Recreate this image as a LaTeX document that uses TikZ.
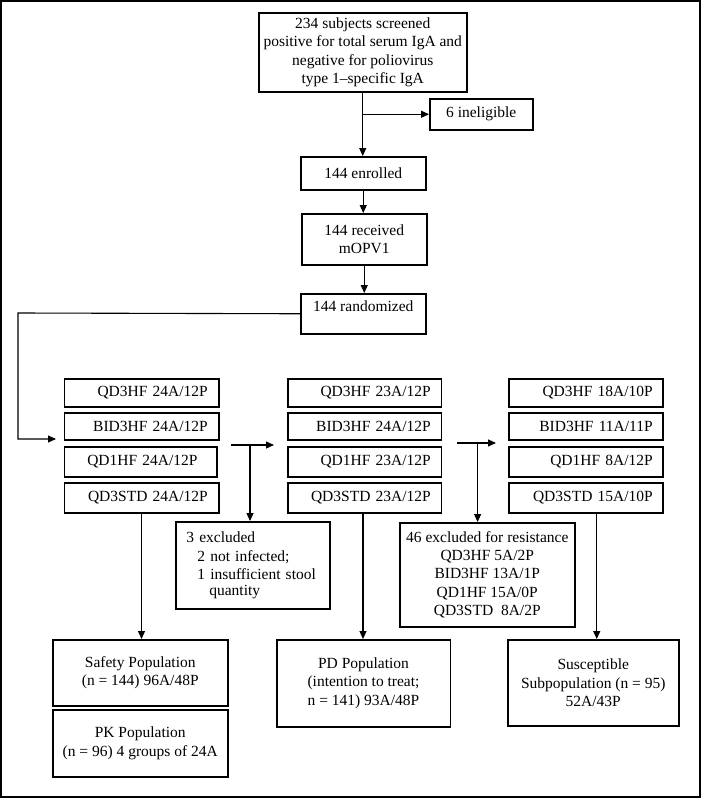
\documentclass[tikz,border=0pt]{standalone}
\usepackage{fontspec}
\setmainfont{Liberation Serif}
\usetikzlibrary{arrows.meta,calc}
\begin{document}
\begin{tikzpicture}[x=1pt,y=-1pt,
  box/.style={draw, line width=1.5pt, inner sep=0pt, anchor=north west,
    font=\fontsize{15.5}{18.4}\selectfont, align=center},
  colbox/.style={box, align=right},
  arr/.style={line width=1.1pt, -{Triangle[length=8pt,width=7pt]}}]
\useasboundingbox (0,0) rectangle (701,798);
\draw[line width=1.5pt] (1,1) rectangle (700,797);
% top chain
\node[box, minimum width=208pt, minimum height=79pt] (top) at (258,12)
  {234 subjects screened\\positive for total serum IgA and\\negative for poliovirus\\type 1–specific IgA};
\node[box, minimum width=103pt, minimum height=31pt] (inel) at (429,98) {6 ineligible};
\node[box, minimum width=125pt, minimum height=33pt] (enr) at (300,156) {144 enrolled};
\node[box, minimum width=125pt, minimum height=51pt] (rec) at (301,213) {144 received\\mOPV1};
\node[box, minimum width=125pt, minimum height=40pt] (rand) at (300,293) {144 randomized\\[-4pt]};
% column 1
\node[colbox, text width=132.5pt, inner xsep=11pt, minimum width=154.5pt, minimum height=28pt] (c1a) at (63.5,378) {QD3HF 24A/12P};
\node[colbox, text width=132.5pt, inner xsep=11pt, minimum width=154.5pt, minimum height=27pt] (c1b) at (63.5,412) {BID3HF 24A/12P};
\node[colbox, text width=114pt, inner xsep=19.25pt, minimum width=152.5pt, minimum height=30pt] (c1c) at (63.5,446) {QD1HF 24A/12P};
\node[colbox, text width=132.5pt, inner xsep=11pt, minimum width=154.5pt, minimum height=30pt] (c1d) at (63.5,482) {QD3STD 24A/12P};
% column 2
\node[colbox, text width=132.5pt, inner xsep=10.5pt, minimum width=153.5pt, minimum height=28pt] (c2a) at (287,378) {QD3HF 23A/12P};
\node[colbox, text width=132.5pt, inner xsep=10.5pt, minimum width=153.5pt, minimum height=27pt] (c2b) at (287,412) {BID3HF 24A/12P};
\node[colbox, text width=132.5pt, inner xsep=10.5pt, minimum width=153.5pt, minimum height=30pt] (c2c) at (287,446) {QD1HF 23A/12P};
\node[colbox, text width=132.5pt, inner xsep=10.5pt, minimum width=153.5pt, minimum height=30pt] (c2d) at (287,482) {QD3STD 23A/12P};
% column 3
\node[colbox, text width=134pt, inner xsep=10pt, minimum width=154pt, minimum height=28pt] (c3a) at (508,378) {QD3HF 18A/10P};
\node[colbox, text width=134pt, inner xsep=10pt, minimum width=154pt, minimum height=27pt] (c3b) at (508,412) {BID3HF 11A/11P};
\node[colbox, text width=134pt, inner xsep=10pt, minimum width=154pt, minimum height=30pt] (c3c) at (508,446) {QD1HF 8A/12P};
\node[colbox, text width=134pt, inner xsep=10pt, minimum width=154pt, minimum height=30pt] (c3d) at (508,482) {QD3STD 15A/10P};
% exclusion boxes
\node[box, align=left, text width=132.8pt, inner xsep=10.6pt, minimum width=154pt, minimum height=87pt] (ex1) at (175,521)
  {3 excluded\\\hspace*{11pt}2 not infected;\\\hspace*{11pt}1 insufficient stool\\[-3pt]\hspace*{23pt}quantity};
\node[box, minimum width=175pt, minimum height=104pt] (ex2) at (399,522)
  {46 excluded for resistance\\QD3HF 5A/2P\\BID3HF 13A/1P\\QD1HF 15A/0P\\QD3STD\ \ 8A/2P};
% populations
\node[box, minimum width=175pt, minimum height=66pt] (saf) at (52,639) {Safety Population\\(n = 144) 96A/48P};
\node[box, minimum width=175pt, minimum height=67pt] (pk) at (52,709) {PK Population\\(n = 96) 4 groups of 24A};
\node[box, minimum width=173.5pt, minimum height=87pt] (pd) at (276,639) {PD Population\\(intention to treat;\\n = 141) 93A/48P};
\node[box, minimum width=171pt, minimum height=86pt] (sus) at (507,639) {Susceptible\\Subpopulation (n = 95)\\52A/43P};
% connectors
\draw[arr] (top.south) -- (top.south |- enr.north);
\draw[arr] (top.south |- inel.west) -- (inel.west);
\draw[arr] (enr.south) -- (enr.south |- rec.north);
\draw[arr] (rec.south) -- (rec.south |- rand.north);
\coordinate (k1) at (18,313);
\coordinate (t1) at (56,439);
\draw[arr] (rand.west) -- (k1) |- (t1);
\coordinate (a1s) at (231,445);
\coordinate (a1e) at (274,445);
\coordinate (a1b) at (250,445);
\draw[arr] (a1s) -- (a1e);
\draw[arr] (a1b) -- (a1b |- ex1.north);
\coordinate (a2s) at (457,443);
\coordinate (a2e) at (496,443);
\coordinate (a2b) at (477.6,443);
\draw[arr] (a2s) -- (a2e);
\draw[arr] (a2b) -- (a2b |- ex2.north);
\draw[arr] (c1d.south) -- (c1d.south |- saf.north);
\draw[arr] ([xshift=-1.5pt]c2d.south) -- ([xshift=-1.5pt]c2d.south |- pd.north);
\draw[arr] ([xshift=11pt]c3d.south) -- ([xshift=11pt]c3d.south |- sus.north);
\end{tikzpicture}
\end{document}
